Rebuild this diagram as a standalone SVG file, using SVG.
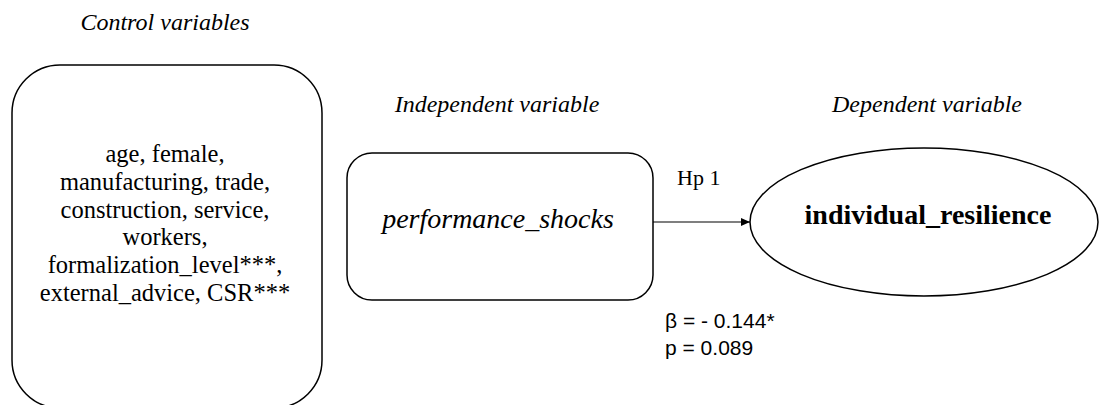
<svg xmlns="http://www.w3.org/2000/svg" width="1100" height="405" viewBox="0 0 1100 405">
<style>
.shape{fill:#fff;stroke:#000;stroke-width:1.5}
.serif{font-family:"Liberation Serif","Times New Roman",serif;fill:#000}
.title{font-size:24px;font-style:italic;text-anchor:middle}
.body{font-size:24.5px;text-anchor:middle}
.sans{font-family:"Liberation Sans",Arial,sans-serif;font-size:21px;fill:#000}
.conn{stroke:#000;stroke-width:1.2;fill:none}
</style>
<defs>
<marker id="arrow" markerWidth="10" markerHeight="8" refX="9" refY="4" orient="auto" markerUnits="userSpaceOnUse">
<path d="M0,0 L9,4 L0,8 Z" fill="#000"/>
</marker>
</defs>
<rect width="1100" height="405" fill="#fff"/>
<g id="titles">
<text class="serif title" x="165" y="30">Control variables</text>
<text class="serif title" x="497" y="112">Independent variable</text>
<text class="serif title" x="927" y="112">Dependent variable</text>
</g>
<g id="control">
<rect class="shape" x="12" y="65" width="310" height="343" rx="48" ry="48"/>
<text class="serif body" x="165" y="162">age, female,</text>
<text class="serif body" x="165" y="189.8">manufacturing, trade,</text>
<text class="serif body" x="165" y="217.6">construction, service,</text>
<text class="serif body" x="165" y="245.4">workers,</text>
<text class="serif body" x="165" y="273.2">formalization_level***,</text>
<text class="serif body" x="165" y="301">external_advice, CSR***</text>
</g>
<g id="independent">
<rect class="shape" x="347" y="153" width="306" height="147" rx="25" ry="25"/>
<text class="serif" x="498" y="227.5" font-size="28" font-style="italic" text-anchor="middle">performance_shocks</text>
</g>
<g id="dependent">
<ellipse class="shape" cx="924" cy="222" rx="174" ry="74"/>
<text class="serif" x="928" y="224" font-size="28" font-weight="bold" text-anchor="middle">individual_resilience</text>
</g>
<g id="connectors">
<line class="conn" x1="653" y1="222" x2="750" y2="222" marker-end="url(#arrow)"/>
<text class="serif" x="677" y="185" font-size="22">Hp 1</text>
<text class="sans" x="665" y="328">β = - 0.144*</text>
<text class="sans" x="665" y="355">p = 0.089</text>
</g>
</svg>
